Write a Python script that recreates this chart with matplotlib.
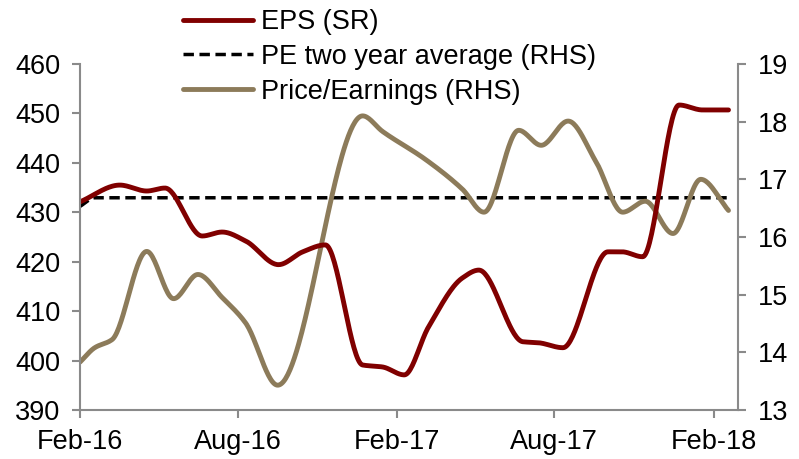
import matplotlib

matplotlib.use("Agg")
import matplotlib.dates as mdates
import matplotlib.pyplot as plt
import numpy as np
import pandas as pd

plt.rcParams["font.family"] = ["Liberation Sans", "DejaVu Sans"]

# EPS, left axis
eps_dates = [
    "2016-02-01", "2016-03-18", "2016-04-18", "2016-05-09", "2016-06-21",
    "2016-07-14", "2016-08-10", "2016-09-17", "2016-10-15", "2016-11-10",
    "2016-12-23", "2017-01-15", "2017-02-09", "2017-03-09", "2017-04-17",
    "2017-05-06", "2017-06-26", "2017-07-14", "2017-08-11", "2017-10-02",
    "2017-10-18", "2017-11-11", "2017-12-23", "2018-01-19", "2018-02-18",
]
eps_values = [
    432.1, 435.5, 434.3, 434.9, 425.2,
    426.0, 424.2, 419.4, 422.0, 423.4,
    399.1, 398.7, 397.1, 406.8, 416.7,
    418.3, 403.8, 403.6, 402.6, 422.0,
    422.0, 421.0, 451.7, 450.7, 450.7,
]

# Price/Earnings and its two year average, right axis
pe_dates = [
    "2016-02-01", "2016-02-18", "2016-03-09", "2016-04-18", "2016-05-19",
    "2016-06-16", "2016-07-14", "2016-08-10", "2016-09-16", "2016-12-23",
    "2017-01-15", "2017-03-05", "2017-04-17", "2017-05-12", "2017-06-21",
    "2017-07-17", "2017-08-17", "2017-09-18", "2017-10-19", "2017-11-14",
    "2017-12-16", "2018-01-17", "2018-02-18",
]
pe_values = [
    13.83, 14.08, 14.22, 15.75, 14.93,
    15.35, 14.95, 14.51, 13.43, 18.10,
    17.83, 17.35, 16.83, 16.43, 17.85,
    17.59, 18.01, 17.31, 16.43, 16.62,
    16.06, 17.00, 16.46,
]
pe_avg_values = [
    16.53, 16.68, 16.68, 16.68, 16.68,
    16.68, 16.68, 16.68, 16.68, 16.68,
    16.68, 16.68, 16.68, 16.68, 16.68,
    16.68, 16.68, 16.68, 16.68, 16.68,
    16.68, 16.68, 16.68,
]

RED = "#800000"
TAN = "#8C7B5A"
GREY = "#8A8A8A"
FS = 19.5


def smooth(dates, values, n=600):
    """Monotone cubic (PCHIP) curve through the points, like a smoothed line."""
    x = mdates.date2num(pd.to_datetime(dates).to_pydatetime())
    y = np.asarray(values, dtype=float)
    h = np.diff(x)
    delta = np.diff(y) / h
    d = np.zeros_like(y)
    for k in range(1, len(y) - 1):
        if delta[k - 1] * delta[k] > 0:
            w1 = 2 * h[k] + h[k - 1]
            w2 = h[k] + 2 * h[k - 1]
            d[k] = (w1 + w2) / (w1 / delta[k - 1] + w2 / delta[k])
    d[0] = delta[0]
    d[-1] = delta[-1]
    xs = np.linspace(x[0], x[-1], n)
    idx = np.clip(np.searchsorted(x, xs) - 1, 0, len(h) - 1)
    t = (xs - x[idx]) / h[idx]
    h00 = 2 * t**3 - 3 * t**2 + 1
    h10 = t**3 - 2 * t**2 + t
    h01 = -2 * t**3 + 3 * t**2
    h11 = t**3 - t**2
    ys = (h00 * y[idx] + h10 * h[idx] * d[idx]
          + h01 * y[idx + 1] + h11 * h[idx] * d[idx + 1])
    return mdates.num2date(xs), ys


fig = plt.figure(figsize=(7.99, 4.59), dpi=100)
ax = fig.add_axes([0.1001, 0.1068, 0.8236, 0.7538])
ax2 = ax.twinx()
ax.set_zorder(ax2.get_zorder() + 1)
ax.patch.set_visible(False)

ex, ey = smooth(eps_dates, eps_values)
(eps_line,) = ax.plot(ex, ey, color=RED, lw=3.5, solid_capstyle="round",
                      label="EPS (SR)")

ax_, ay_ = smooth(pe_dates, pe_avg_values)
(avg_line,) = ax2.plot(ax_, ay_, color="black", lw=2.5, dashes=(3.0, 1.6),
                       label="PE two year average (RHS)")
px, py = smooth(pe_dates, pe_values)
(pe_line,) = ax2.plot(px, py, color=TAN, lw=3.5, solid_capstyle="round",
                      label="Price/Earnings (RHS)")

ax.set_ylim(390, 460)
ax.set_yticks(range(390, 461, 10))
ax2.set_ylim(13, 19)
ax2.set_yticks(range(13, 20))
ax.set_xlim(pd.Timestamp("2016-02-01"), pd.Timestamp("2018-03-01"))
ax.xaxis.set_major_locator(mdates.MonthLocator(bymonth=(2, 8)))
ax.xaxis.set_major_formatter(mdates.DateFormatter("%b-%y"))

for a in (ax, ax2):
    a.spines["top"].set_visible(False)
    for side in ("left", "right", "bottom"):
        a.spines[side].set_color(GREY)
        a.spines[side].set_linewidth(1.5)
    a.tick_params(colors=GREY, labelcolor="black", labelsize=FS,
                  length=6, width=1.5, pad=8)
ax.spines["right"].set_visible(False)
ax2.spines["left"].set_visible(False)
ax2.spines["bottom"].set_visible(False)

fig.legend(handles=[eps_line, avg_line, pe_line], loc="upper left",
           bbox_to_anchor=(183 / 799, 1 - 9 / 459), frameon=False,
           fontsize=FS, handlelength=2.6, handletextpad=0.27,
           labelspacing=0.33, borderpad=0, borderaxespad=0)

fig.savefig("out.png", dpi=100)
plt.close(fig)
